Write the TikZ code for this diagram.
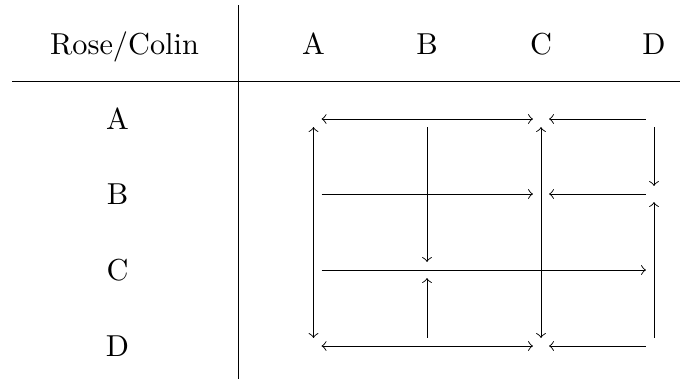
\documentclass[tikz,border=0pt]{standalone}
\begin{document}
\begin{tikzpicture}[x=0.33pt,y=-0.33pt,line width=0.3pt,
  cell/.style={circle,inner sep=0pt,minimum size=5pt},
  lbl/.style={anchor=base,inner sep=0pt},
  rule/.style={line width=0.33pt}]
\useasboundingbox (0,0) rectangle (680,384);

% table rules
\coordinate (hl) at (12,81);
\coordinate (hr) at (680,81);
\coordinate (vt) at (238,5);
\coordinate (vb) at (238,379);
\draw[rule] (hl) -- (hr);
\draw[rule] (vt) -- (vb);

% header labels
\node[lbl] (hdr) at (124.5,54) {Rose/Colin};
\node[lbl] (hA) at (313.5,54) {A};
\node[lbl] (hB) at (427,54) {B};
\node[lbl] (hC) at (541,54) {C};
\node[lbl] (hD) at (654,54) {D};

% row labels
\node[lbl] (rA) at (117.5,129) {A};
\node[lbl] (rB) at (117.5,204) {B};
\node[lbl] (rC) at (117.5,280) {C};
\node[lbl] (rD) at (117.5,356) {D};

% strategy cells: first letter Rose, second letter Colin
\foreach \r/\y in {a/119,b/194,c/270,d/346}{
  \foreach \c/\x in {a/313.5,b/427,c/541,d/654}{
    \node[cell] (\r\c) at (\x,\y) {};
  }
}

% movement arrows
\draw[<->] (aa) -- (ac);
\draw[->] (ad) -- (ac);
\draw[->] (ba) -- (bc);
\draw[->] (bd) -- (bc);
\draw[->] (ca) -- (cd);
\draw[<->] (da) -- (dc);
\draw[->] (dd) -- (dc);

\draw[<->] (aa) -- (da);
\draw[->] (ab) -- (cb);
\draw[->] (db) -- (cb);
\draw[<->] (ac) -- (dc);
\draw[->] (ad) -- (bd);
\draw[->] (dd) -- (bd);
\end{tikzpicture}
\end{document}
